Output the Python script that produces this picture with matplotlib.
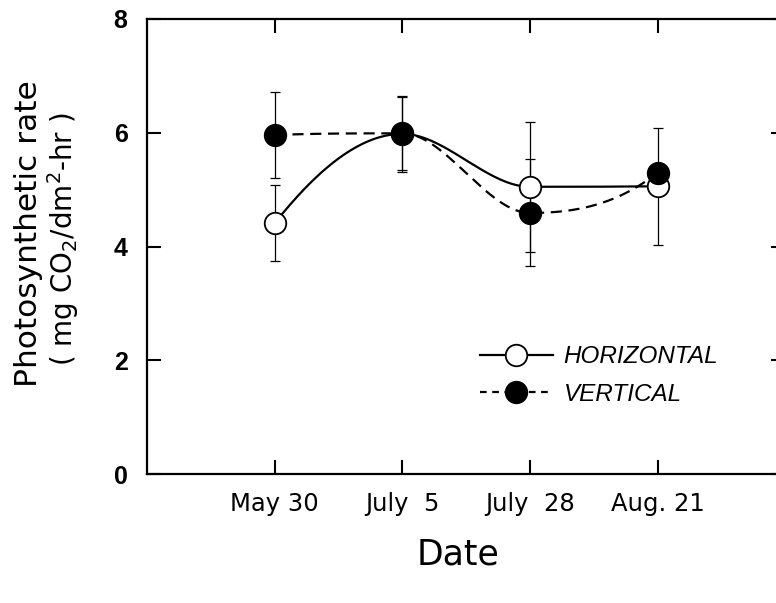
import numpy as np
import matplotlib
matplotlib.use("Agg")
import matplotlib.pyplot as plt

dates = ["May 30", "July  5", "July  28", "Aug. 21"]
x_pos = [1, 2, 3, 4]

horiz_rate = [4.41, 5.98, 5.05, 5.06]
horiz_err = [0.67, 0.67, 1.14, 1.03]

vert_rate = [5.96, 5.99, 4.59, 5.30]
vert_err = [0.75, 0.64, 0.94, 0.15]

y_ticks = [0, 2, 4, 6, 8]


def _end_slope(h0, h1, d0, d1):
  m = ((2 * h0 + h1) * d0 - h0 * d1) / (h0 + h1)
  if np.sign(m) != np.sign(d0):
    m = 0.0
  elif np.sign(d0) != np.sign(d1) and abs(m) > abs(3 * d0):
    m = 3 * d0
  return m


def smooth_curve(xk, yk, n=200):
  # monotone (pchip style) cubic through the means, only for drawing the line
  xk = np.asarray(xk, float)
  yk = np.asarray(yk, float)
  h = np.diff(xk)
  d = np.diff(yk) / h
  m = np.zeros_like(yk)
  for i in range(1, len(xk) - 1):
    if d[i - 1] * d[i] > 0:
      w1 = 2 * h[i] + h[i - 1]
      w2 = h[i] + 2 * h[i - 1]
      m[i] = (w1 + w2) / (w1 / d[i - 1] + w2 / d[i])
  m[0] = _end_slope(h[0], h[1], d[0], d[1])
  m[-1] = _end_slope(h[-1], h[-2], d[-1], d[-2])
  xs = np.linspace(xk[0], xk[-1], n)
  ys = np.empty_like(xs)
  for j, xv in enumerate(xs):
    i = min(np.searchsorted(xk, xv, side="right") - 1, len(xk) - 2)
    t = (xv - xk[i]) / h[i]
    h00 = 2 * t ** 3 - 3 * t ** 2 + 1
    h10 = t ** 3 - 2 * t ** 2 + t
    h01 = -2 * t ** 3 + 3 * t ** 2
    h11 = t ** 3 - t ** 2
    ys[j] = h00 * yk[i] + h10 * h[i] * m[i] + h01 * yk[i + 1] + h11 * h[i] * m[i + 1]
  return xs, ys


fig = plt.figure(figsize=(7.76, 6.03), dpi=100)
ax = fig.add_axes([0.1894, 0.2139, 0.8228, 0.7546])

# error bars
ax.errorbar(x_pos, horiz_rate, yerr=horiz_err, fmt="none", ecolor="black",
            elinewidth=0.9, capsize=3.3, capthick=0.9, zorder=2)
ax.errorbar(x_pos, vert_rate, yerr=vert_err, fmt="none", ecolor="black",
            elinewidth=0.9, capsize=3.3, capthick=0.9, zorder=2)

# smooth curves
hx, hy = smooth_curve(x_pos, horiz_rate)
vx, vy = smooth_curve(x_pos, vert_rate)
ax.plot(hx, hy, color="black", lw=1.6, zorder=3)
ax.plot(vx, vy, color="black", lw=1.6, ls=(0, (5, 3)), zorder=3)

# markers
ax.plot(x_pos, horiz_rate, ls="none", marker="o", ms=15.5, mfc="white",
        mec="black", mew=1.3, zorder=4)
ax.plot(x_pos, vert_rate, ls="none", marker="o", ms=15.5, mfc="black",
        mec="black", mew=1.3, zorder=5)

# legend handles
h1, = ax.plot([], [], color="black", lw=1.6, marker="o", ms=15.5,
              mfc="white", mec="black", mew=1.3)
h2, = ax.plot([], [], color="black", lw=1.6, ls=(0, (3, 2.5)), marker="o",
              ms=15.5, mfc="black", mec="black", mew=1.3)
ax.legend([h1, h2], ["HORIZONTAL", "VERTICAL"], loc="upper left",
          bbox_to_anchor=(0.521, 0.283), frameon=False, borderpad=0,
          borderaxespad=0, handlelength=3.0, handletextpad=0.45,
          labelspacing=0.6,
          prop={"family": "Liberation Sans", "style": "italic", "size": 17.5})

ax.set_xlim(0, 5)
ax.set_ylim(0, 8)
ax.set_xticks(x_pos)
ax.set_xticklabels(dates, fontsize=17.5, family="DejaVu Sans")
ax.set_yticks(y_ticks)
ax.set_yticklabels([str(v) for v in y_ticks], fontsize=18,
                   family="Liberation Sans", weight="bold")

ax.tick_params(axis="both", direction="in", length=10, width=1.5,
               top=True, right=True)
ax.tick_params(axis="x", pad=13)
ax.tick_params(axis="y", pad=14)
for s in ax.spines.values():
  s.set_linewidth(1.6)

fig.text(0.037, 0.613, "Photosynthetic rate", rotation=90, fontsize=22.5,
         ha="center", va="center", family="DejaVu Sans")
fig.text(0.081, 0.603, "( mg CO$_2$/dm$^2$-hr )", rotation=90, fontsize=20,
         ha="center", va="center", family="DejaVu Sans")
fig.text(0.59, 0.08, "Date", fontsize=25, ha="center", va="center",
         family="DejaVu Sans")

fig.savefig("out.png", dpi=100)
